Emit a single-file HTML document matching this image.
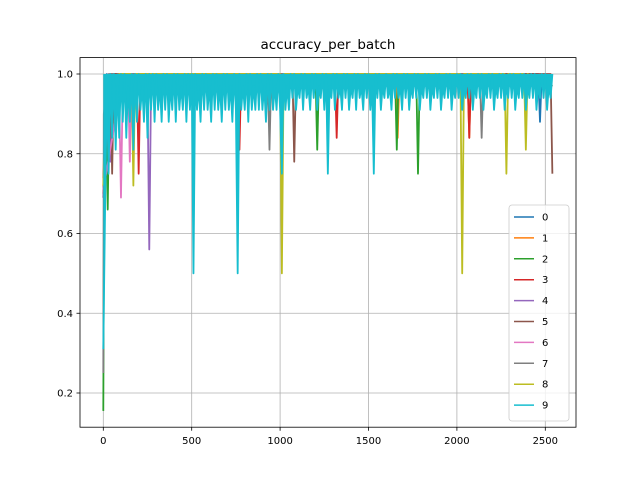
<!DOCTYPE html>
<html><head><meta charset="utf-8"><style>
body{margin:0;background:#fff;}
svg{display:block;font-family:"DejaVu Sans","Liberation Sans",sans-serif;}
</style></head><body>
<svg id="chart" width="640" height="480">
<rect width="640" height="480" fill="#fff"/>
<text x="328" y="49" text-anchor="middle" font-size="13.5">accuracy_per_batch</text>
<g id="grid"></g><g id="series"></g><g id="axes"></g><g id="legend"></g>
</svg>
<script>
const xTicks=[0,500,1000,1500,2000,2500];
const yTicks=[0.2,0.4,0.6,0.8,1.0];
const seriesNames=["0","1","2","3","4","5","6","7","8","9"];
const colors=["#1f77b4","#ff7f0e","#2ca02c","#d62728","#9467bd","#8c564b","#e377c2","#7f7f7f","#bcbd22","#17becf"];
const x0=[0,10,20,30,60,70,80,2460,2470,2480,2540];
const y0=[0.69,0.94,1,0.97,1,0.91,1,1,0.88,1,0.97];
const x1=[0,10,20,40,50,60,1655,1665,1675,2060,2070,2080,2540];
const y1=[0.72,0.94,0.97,1,0.88,1,1,0.84,1,1,0.84,1,0.97];
const x2=[0,5,15,25,35,45,55,1200,1210,1220,1650,1660,1670,1770,1780,1790,2540];
const y2=[0.155,0.75,0.97,0.66,0.97,1,0.97,1,0.81,1,1,0.81,1,1,0.75,1,0.97];
const x3=[0,20,30,40,190,200,210,760,770,780,1310,1320,1330,2060,2070,2080,2540];
const y3=[0.7,0.97,0.78,1,1,0.75,1,1,0.81,1,1,0.84,1,1,0.84,1,0.97];
const x4=[0,30,40,50,250,260,270,2540];
const y4=[0.69,0.97,0.78,1,0.97,0.56,0.97,0.97];
const x5=[0,40,50,60,1070,1080,1090,2530,2540];
const y5=[0.74,1,0.75,1,1,0.78,1,1,0.75];
const x6=[0,90,100,110,140,150,160,2540];
const y6=[0.71,0.94,0.69,0.97,1,0.78,1,0.97];
const x7=[0,3,30,60,70,80,930,940,950,2130,2140,2150,2540];
const y7=[0.25,0.9,1,1,0.84,1,1,0.81,1,1,0.84,1,0.97];
const x8=[0,20,90,160,170,180,1000,1010,1020,2020,2030,2040,2270,2280,2290,2380,2390,2400,2540];
const y8=[0.72,0.94,1,1,0.72,1,1,0.5,1,1,0.5,1,1,0.75,1,1,0.81,1,0.97];
const x9step=10;
const y9=[0.31,0.66,0.97,0.75,1,0.84,1,0.81,0.97,0.84,
1,0.88,1,0.84,0.97,0.88,1,0.81,1,0.88,
1,0.91,0.97,0.88,1,0.84,1,0.91,1,0.88,
1,0.91,0.97,0.88,1,0.91,1,0.88,0.97,0.91,
1,0.88,1,0.91,0.97,0.91,1,0.88,1,0.91,
1,0.5,1,0.91,0.97,0.88,1,0.91,1,0.91,
0.97,0.88,1,0.91,1,0.91,0.97,0.88,1,0.91,
1,0.91,0.97,0.88,1,0.91,0.5,1,0.91,0.97,
0.91,1,0.88,1,0.91,0.97,0.91,1,0.91,1,
0.91,0.97,0.88,1,0.91,1,0.91,0.97,0.91,1,
0.91,0.75,1,0.91,0.97,0.91,1,0.94,1,0.91,
0.97,0.94,1,0.91,1,0.94,0.97,0.91,1,0.94,
1,0.91,0.97,0.94,1,0.91,1,0.75,0.97,0.94,
1,0.91,1,0.94,0.97,0.91,1,0.94,1,0.91,
0.97,0.94,1,0.91,1,0.94,0.97,0.91,1,0.94,
1,0.91,0.97,0.75,1,0.94,1,0.91,0.97,0.94,
1,0.94,0.97,0.91,1,0.94,1,0.94,0.97,0.91,
1,0.94,1,0.91,0.97,0.94,1,0.94,1,0.91,
0.97,0.94,1,0.94,1,0.91,0.97,0.94,1,0.94,
1,0.91,0.97,0.94,1,0.94,1,0.91,0.97,0.94,
1,0.94,1,0.91,0.97,0.94,1,0.94,1,0.91,
0.97,0.94,1,0.94,1,0.91,0.97,0.94,1,0.94,
1,0.91,0.97,0.94,1,0.94,1,0.91,0.97,0.94,
1,0.94,1,0.91,0.97,0.94,1,0.94,1,0.91,
0.97,0.94,1,0.94,1,0.91,0.97,0.94,1,0.94,
1,0.91,0.97,0.94,1];
const x9=y9.map((_,i)=>i*x9step);
const allX=[x0,x1,x2,x3,x4,x5,x6,x7,x8,x9];
const allY=[y0,y1,y2,y3,y4,y5,y6,y7,y8,y9];

const L=80,R=576,T=57.6,B=427.2;
const xPx=v=>103.3+v*(191.7-103.3)/500;
const yPx=v=>74+(1.0-v)*(79.75/0.2);
const NS="http://www.w3.org/2000/svg";
function mk(tag,attrs,parent){const e=document.createElementNS(NS,tag);for(const k in attrs)e.setAttribute(k,attrs[k]);parent.appendChild(e);return e;}
const grid=document.getElementById('grid'),axes=document.getElementById('axes'),ser=document.getElementById('series'),leg=document.getElementById('legend');
xTicks.forEach(t=>{const x=xPx(t);
 const g=mk('line',{x1:x,x2:x,y1:T,y2:B,stroke:'#b0b0b0','stroke-width':0.8},grid);
 
 
 const tk=mk('line',{x1:x,x2:x,y1:B,y2:B+3.5,stroke:'#000','stroke-width':0.8},axes);
 
 
 const tx=mk('text',{x:x,y:B+17,'text-anchor':'middle','font-size':10},axes);tx.textContent=t;
 
 
});
yTicks.forEach(t=>{const y=yPx(t);
 const g=mk('line',{x1:L,x2:R,y1:y,y2:y,stroke:'#b0b0b0','stroke-width':0.8},grid);
 
 
 const tk=mk('line',{x1:L-3.5,x2:L,y1:y,y2:y,stroke:'#000','stroke-width':0.8},axes);
 
 
 const tx=mk('text',{x:L-7,y:y+3.5,'text-anchor':'end','font-size':10},axes);tx.textContent=t.toFixed(1);
 
 
});
allY.forEach((ys,s)=>{const xs=allX[s];
 const pts=ys.map((v,i)=>xPx(xs[i]).toFixed(2)+','+yPx(v).toFixed(2));
 const d='M'+pts.join('L');
 if(s===9){
  const top=yPx(1.0).toFixed(2);
  const area=mk('path',{d:'M'+xPx(xs[0]).toFixed(2)+','+top+'L'+pts.join('L')+'L'+xPx(xs[xs.length-1]).toFixed(2)+','+top+'Z',fill:colors[s],stroke:'none'},ser);
  
  
 }
 const p=mk('path',{d:d,fill:'none',stroke:colors[s],'stroke-width':1.8,'stroke-linejoin':'round'},ser);
 
 
});
const frame=mk('rect',{x:L,y:T,width:R-L,height:B-T,fill:'none',stroke:'#000','stroke-width':0.8},axes);


const box=mk('rect',{x:509,y:205,width:60,height:216,rx:3,fill:'#fff','fill-opacity':0.8,stroke:'#ccc','stroke-width':0.8},leg);


seriesNames.forEach((n,i)=>{const y=217+i*20.9;
 const g=mk('g',{},leg);
 
 
 mk('line',{x1:514,x2:534,y1:y,y2:y,stroke:colors[i],'stroke-width':1.5},g);
 const t=mk('text',{x:542,y:y+3.5,'font-size':10},g);t.textContent=n;
});
</script>
</body></html>
